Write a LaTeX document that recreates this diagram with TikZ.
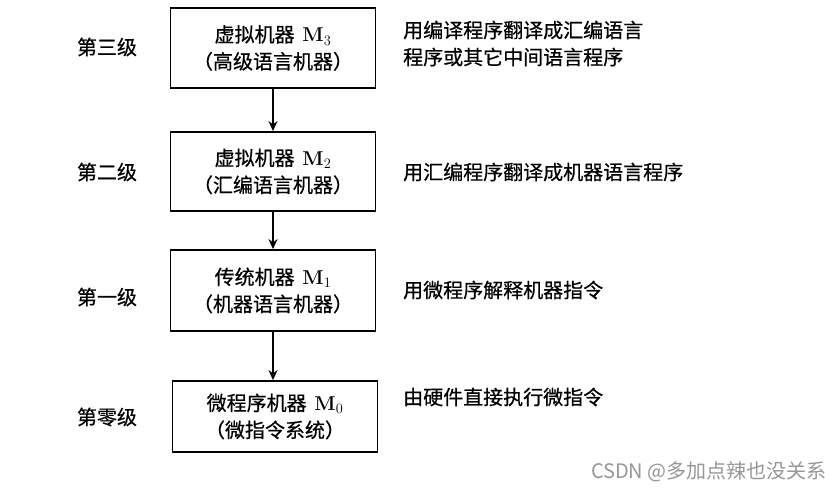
\documentclass[tikz,border=0pt]{standalone}
\usepackage{fontspec}
\usepackage{tikz}
\usetikzlibrary{arrows.meta,positioning}
\newfontfamily\cjk[FakeBold=0.6]{Noto Sans CJK SC}
\newfontfamily\markfont{Noto Sans CJK SC}
\definecolor{markgray}{RGB}{150,150,150}
\newcommand{\mach}[1]{\,{\normalfont\bfseries M}$_{#1}$}

\begin{document}
\begin{tikzpicture}[x=1pt,y=-1pt,
    level/.style={draw, line width=1.8pt, minimum width=205pt, align=center,
        font=\fontsize{20}{27}\selectfont\cjk, inner sep=0pt},
    side/.style={font=\fontsize{20}{27}\selectfont\cjk, anchor=west, align=left, inner sep=0pt},
    tag/.style={font=\fontsize{20}{27}\selectfont\cjk, inner sep=0pt},
    down/.style={-{Stealth[length=10pt,width=9pt]}, line width=1.5pt}]
    \useasboundingbox (0,0) rectangle (833,491);

    % Machine levels
    \node[level, minimum height=80pt] (m3) at (273,48)
        {虚拟机器 \mach{3}\\（高级语言机器）};
    \node[level, minimum height=79pt] (m2) at (273,171.5)
        {虚拟机器 \mach{2}\\（汇编语言机器）};
    \node[level, minimum height=81pt] (m1) at (273,290.5)
        {传统机器 \mach{1}\\（机器语言机器）};
    \node[level, minimum height=71pt] (m0) at (275,416.5)
        {微程序机器 \mach{0}\\（微指令系统）};

    % Arrows between levels
    \draw[down] (m3.south) -- (m2.north);
    \draw[down] (m2.south) -- (m1.north);
    \draw[down] (m1.south) -- (m1.south |- m0.north);

    % Level names
    \node[tag] (l3) at (107,47) {第三级};
    \node[tag] (l2) at (107,172) {第二级};
    \node[tag] (l1) at (107,297) {第一级};
    \node[tag] (l0) at (107,417) {第零级};

    % How each level runs
    \node[side] (d3) at (403,43.5) {用编译程序翻译成汇编语言\\程序或其它中间语言程序};
    \node[side] (d2) at (403,172) {用汇编程序翻译成机器语言程序};
    \node[side] (d1) at (403,290) {用微程序解释机器指令};
    \node[side] (d0) at (403,397) {由硬件直接执行微指令};

    \node[font=\fontsize{20}{22}\selectfont\markfont, text=markgray, anchor=east, inner sep=0pt]
        (mark) at (827,472) {CSDN @多加点辣也没关系};
\end{tikzpicture}
\end{document}
